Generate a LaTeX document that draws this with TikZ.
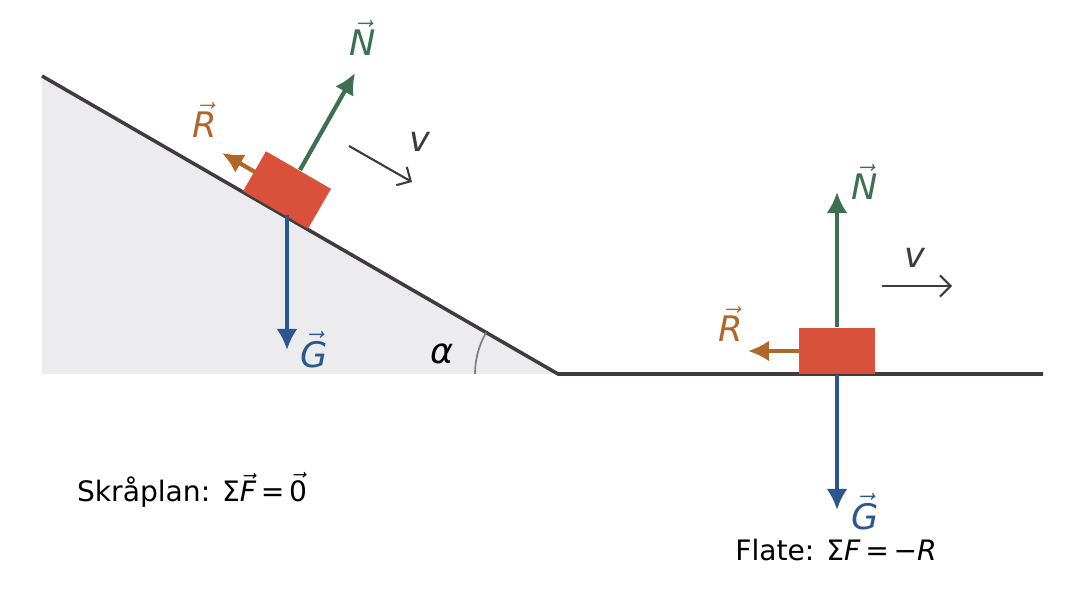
\documentclass[tikz,border=0pt]{standalone}
\usepackage{fontspec}
\setmainfont{DejaVu Sans}
\usetikzlibrary{arrows.meta, positioning}
\definecolor{cN}{HTML}{3D7050}
\definecolor{cR}{HTML}{B0682A}
\definecolor{cG}{HTML}{2B5790}
\definecolor{cBlock}{HTML}{D9503B}
\definecolor{cLine}{HTML}{3F3B3E}
\definecolor{cShade}{HTML}{ECEBEE}
\begin{document}
\begin{tikzpicture}[
	x=0.01cm, y=-0.01cm,
	force/.style={line width=1.2pt, -{Latex[length=6pt, width=6pt]}},
	vel/.style={line width=0.6pt, cLine, -{Straight Barb[length=3pt]}},
	lbl/.style={font=\fontsize{10}{12}\selectfont},
	eq/.style={font=\fontsize{8}{10}\selectfont},
	block/.style={fill=cBlock, draw=none, minimum width=0.75cm, minimum height=0.46cm, inner sep=0pt},
	]
	\useasboundingbox (0,0) rectangle (1076,604);
	% incline
	\coordinate (top) at (42,76);
	\coordinate (foot) at (558,374);
	\coordinate (end) at (1043,374);
	\fill [cShade] (top) -- (foot) -- (42,374) -- cycle;
	\draw [cLine, line width=1pt] (top) -- (foot) -- (end);
	\draw [gray, line width=0.5pt] (475,374) arc[start angle=180, end angle=210, radius=83];
	\node [lbl] (alpha) at (442,354) {\textit{α}};
	
	\node [block, rotate=-30] (b1) at (287,190) {};
	\draw [force, cN] (300,170) -- (355,73);
	\node [lbl, text=cN] (N1) at (363,38) {$\vec{\mathit{N}}$};
	\draw [force, cR] (255,172) -- (222,153);
	\node [lbl, text=cR] (R1) at (205,120) {$\vec{\mathit{R}}$};
	\draw [force, cG] (287,215) -- (287,350);
	\node [lbl, text=cG] (G1) at (314,350) {$\vec{\mathit{G}}$};
	\draw [vel] (349,146) -- (412,182);
	\node [lbl, text=cLine] (v1) at (420,142) {\textit{v}};
	
	% flat surface
	\node [block] (b2) at (837,351) {};
	\draw [force, cN] (b2.north) -- (837,192);
	\node [lbl, text=cN] (N2) at (865,182) {$\vec{\mathit{N}}$};
	\draw [force, cR] (b2.west) -- (748,351);
	\node [lbl, text=cR] (R2) at (731,324) {$\vec{\mathit{R}}$};
	\draw [force, cG] (b2.south) -- (837,510);
	\node [lbl, text=cG] (G2) at (865,512) {$\vec{\mathit{G}}$};
	\draw [vel] (882,286) -- (952,286);
	\node [lbl, text=cLine] (v2) at (915,258) {\textit{v}};
	
	\node [eq] (sum1) at (192,490) {Skråplan: Σ$\vec{\mathit{F}}$\,=\,$\vec{\mathrm{0}}$};
	\node [eq] (sum2) at (836,550) {Flate: Σ\textit{F}\,=\,−\textit{R}};
\end{tikzpicture}
\end{document}
